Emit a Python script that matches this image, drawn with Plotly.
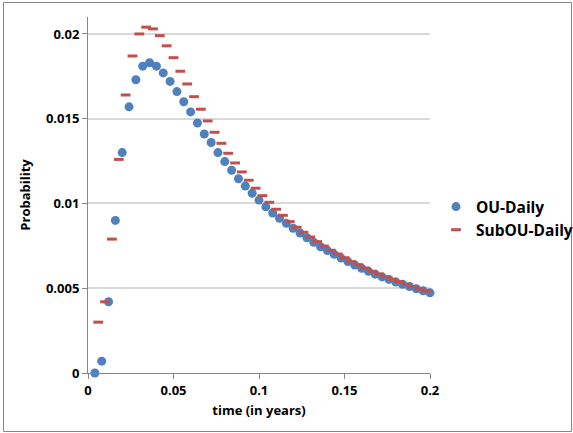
import plotly.graph_objects as go

# data
ou_days = list(range(1, 51))
ou_time = [d * 0.004 for d in ou_days]
ou_daily = [0.0000, 0.0007, 0.0042, 0.0090, 0.0130, 0.0157, 0.0173, 0.0181, 0.0183, 0.0181,
            0.0177, 0.0172, 0.0166, 0.0160, 0.0154, 0.01475, 0.0141, 0.0136, 0.0130, 0.01247,
            0.01196, 0.01146, 0.01103, 0.0106, 0.0102, 0.0098, 0.00944, 0.00913, 0.00883, 0.00854,
            0.00826, 0.00798, 0.00771, 0.00745, 0.00722, 0.00700, 0.00678, 0.00657, 0.00637, 0.00618,
            0.00600, 0.00583, 0.00567, 0.00552, 0.00537, 0.00523, 0.00510, 0.00497, 0.00485, 0.00473]
sub_time = [d * 0.004 + 0.002 for d in ou_days]
subou_daily = [0.0030, 0.0042, 0.0079, 0.0126, 0.0164, 0.0187, 0.0200, 0.0204, 0.0203, 0.0199,
               0.0193, 0.0186, 0.0178, 0.01705, 0.0163, 0.01556, 0.01487, 0.0142, 0.01355, 0.01296,
               0.01239, 0.01186, 0.01137, 0.0109, 0.01046, 0.01007, 0.00966, 0.0093, 0.00893, 0.0086,
               0.0083, 0.00802, 0.00775, 0.00749, 0.00724, 0.00702, 0.0068, 0.00657, 0.00639, 0.00619,
               0.0060, 0.00584, 0.00568, 0.00553, 0.00539, 0.00523, 0.00509, 0.00496, 0.00484, 0.00472]
x_ticks = [0, 0.05, 0.1, 0.15, 0.2]
x_tick_labels = ["0", "0.05", "0.1", "0.15", "0.2"]
y_ticks = [0, 0.005, 0.01, 0.015, 0.02]
y_tick_labels = ["0", "0.005", "0.01", "0.015", "0.02"]

W, H = 573, 433
L, R, T, B = 88, 143, 17, 60
PW, PH = W - L - R, H - T - B

def px_x(px):
    return (px - L) / PW

def px_y(py):
    return (H - B - py) / PH

FONT = "Open Sans"
fig = go.Figure()
fig.add_trace(go.Scatter(
    x=ou_time, y=ou_daily, mode="markers", name="OU-Daily",
    marker=dict(symbol="circle", size=9, color="#4f81bd"),
    cliponaxis=False,
))
fig.add_trace(go.Scatter(
    x=sub_time, y=subou_daily, mode="markers", name="SubOU-Daily",
    marker=dict(symbol="line-ew", size=7, color="#c0504d", line=dict(width=3, color="#c0504d")),
    cliponaxis=False,
))

axis_font = dict(family=FONT, size=13, color="#000000")
fig.update_layout(
    width=W, height=H,
    margin=dict(l=L, r=R, t=T, b=B, autoexpand=False),
    paper_bgcolor="white", plot_bgcolor="white",
    font=dict(family=FONT, color="#000000"),
    xaxis=dict(
        range=[0, 0.2], tickvals=x_ticks, ticktext=x_tick_labels,
        showgrid=False, zeroline=False,
        showline=True, linecolor="#868686", linewidth=1,
        ticks="outside", ticklen=5, tickcolor="#868686",
        tickfont=dict(family=FONT, size=13, color="#000000", weight="bold"),
        title=dict(text="<b>time (in years)</b>", font=axis_font, standoff=8),
    ),
    yaxis=dict(
        range=[0, 0.021], tickvals=y_ticks, ticktext=y_tick_labels,
        showgrid=True, gridcolor="#d9d9d9", gridwidth=1.5, zeroline=False,
        showline=True, linecolor="#868686", linewidth=1,
        ticks="outside", ticklen=5, tickcolor="#868686",
        tickfont=dict(family=FONT, size=13, color="#000000", weight="bold"),
        title=dict(text="<b>Probability</b>", font=axis_font, standoff=12),
    ),
    legend=dict(
        x=px_x(436), y=px_y(190), xanchor="left", yanchor="top",
        font=dict(family=FONT, size=15.5, color="#000000", weight="bold"),
        bgcolor="rgba(0,0,0,0)", tracegroupgap=2,
    ),
    showlegend=True,
    shapes=[dict(
        type="rect", xref="paper", yref="paper",
        x0=px_x(3.5), x1=px_x(571.5), y0=px_y(431.5), y1=px_y(2.5),
        line=dict(color="#868686", width=1), fillcolor="rgba(0,0,0,0)", layer="above",
    )],
)
fig.write_html("out.html", config={"displayModeBar": False},
               post_script="document.body.style.margin='0';")
